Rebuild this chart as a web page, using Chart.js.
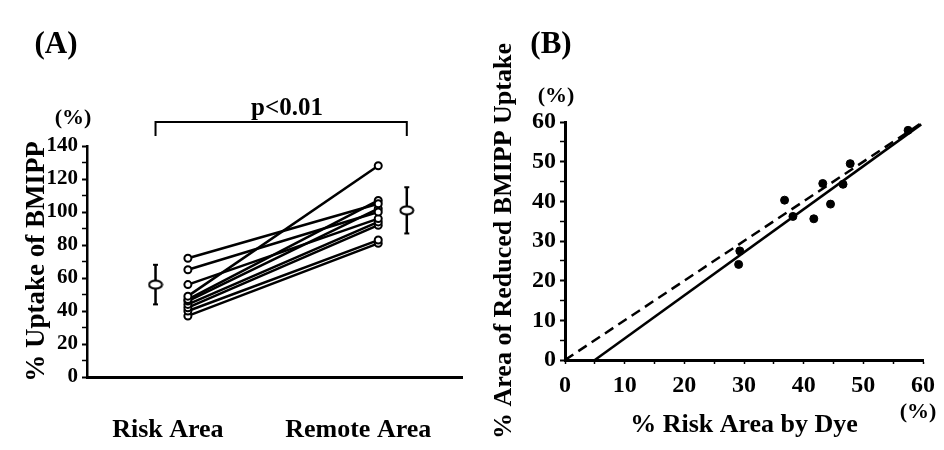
<!DOCTYPE html>
<html>
<head>
<meta charset="utf-8">
<script src="https://cdn.jsdelivr.net/npm/chart.js@4.4.0/dist/chart.umd.min.js"></script>
<style>
  body { margin: 0; background: #fff; }
  #wrap { position: relative; width: 944px; height: 450px; background: #fff; }
  .panel { position: absolute; top: 0; width: 472px; height: 450px; }
  .lbl { position: absolute; transform: translate(-50%, -50%); font-family: "Liberation Serif", serif; font-weight: bold; color: #000; white-space: nowrap; line-height: 1; }
</style>
</head>
<body>
<div id="wrap">
  <div class="panel" style="left:0"><canvas id="chartA"></canvas></div>
  <div class="panel" style="left:472px"><canvas id="chartB"></canvas></div>
  <div class="lbl" style="left:56px;top:42px;font-size:31px">(A)</div>
  <div class="lbl" style="left:551px;top:42px;font-size:31px">(B)</div>
  <div class="lbl" style="left:73px;top:117px;font-size:22px">(%)</div>
  <div class="lbl" id="pLabel" style="left:287px;top:106px;font-size:25px"></div>
  <div class="lbl" style="left:556px;top:95px;font-size:22px">(%)</div>
  <div class="lbl" style="left:918px;top:411px;font-size:22px">(%)</div>
</div>
<script>
// Panel A: % uptake of BMIPP, risk area vs remote area (one line per patient)
const areaLabels = ["Risk Area", "Remote Area"];
const riskUptake = [72, 65, 56, 49, 47, 46, 44, 42, 40, 37];
const remoteUptake = [105, 100, 96, 128, 107, 102, 94, 92, 83, 81];
const meanUptake = [56, 101];
const sdUptake = [12, 14];
const pText = "p<0.01";

// Panel B: % risk area by dye vs % area of reduced BMIPP uptake
const dyeRisk = [29.3, 29.1, 36.8, 38.2, 41.7, 43.2, 44.5, 46.6, 47.8, 57.5];
const reducedUptake = [27.5, 24.1, 40.3, 36.2, 35.6, 44.5, 39.3, 44.3, 49.5, 57.9];
const fitX = [5, 59.7];
const fitY = [0, 59.4];
const identityX = [0, 59.5];
const identityY = [0, 59.5];

const FONT = "Liberation Serif";
Chart.defaults.font.family = FONT;
Chart.defaults.color = "#000";

document.getElementById("pLabel").textContent = pText;

// x places of the two groups in panel A
const groupX = [0, 1];
const meanX = [-0.17, 1.15];
const bracketY = [146, 154.5];

function ellipseMarker() {
  const c = document.createElement("canvas");
  c.width = 16; c.height = 11;
  const g = c.getContext("2d");
  g.beginPath();
  g.ellipse(8, 5.5, 6.5, 4, 0, 0, Math.PI * 2);
  g.fillStyle = "#fff";
  g.fill();
  g.lineWidth = 2;
  g.strokeStyle = "#000";
  g.stroke();
  return c;
}

const datasetsA = [];
// mean markers first so they sit on top
datasetsA.push({
  type: "scatter",
  data: meanUptake.map((m, i) => ({ x: meanX[i], y: m })),
  pointStyle: ellipseMarker(),
  pointRadius: 6
});
meanUptake.forEach((m, i) => {
  datasetsA.push({
    type: "line",
    data: [{ x: meanX[i], y: m - sdUptake[i] }, { x: meanX[i], y: m + sdUptake[i] }],
    borderColor: "#000",
    borderWidth: 2.5,
    pointStyle: "line",
    pointRadius: 2.5,
    pointBorderWidth: 2,
    pointBorderColor: "#000"
  });
});
riskUptake.forEach((r, i) => {
  datasetsA.push({
    type: "line",
    data: [{ x: groupX[0], y: r }, { x: groupX[1], y: remoteUptake[i] }],
    borderColor: "#000",
    borderWidth: 2.5,
    pointRadius: 3.5,
    pointBackgroundColor: "#fff",
    pointBorderColor: "#000",
    pointBorderWidth: 2
  });
});
// significance bracket
datasetsA.push({
  type: "line",
  data: [
    { x: meanX[0], y: bracketY[0] }, { x: meanX[0], y: bracketY[1] },
    { x: meanX[1], y: bracketY[1] }, { x: meanX[1], y: bracketY[0] }
  ],
  borderColor: "#000",
  borderWidth: 2,
  pointRadius: 0,
  clip: false
});

new Chart(document.getElementById("chartA"), {
  type: "scatter",
  data: { datasets: datasetsA },
  options: {
    responsive: true,
    maintainAspectRatio: false,
    animation: false,
    layout: { padding: { left: 0, top: 146, right: 10, bottom: 0 } },
    plugins: { legend: { display: false }, tooltip: { enabled: false } },
    scales: {
      x: {
        type: "linear",
        min: -0.53,
        max: 1.44,
        afterBuildTicks: (scale) => { scale.ticks = groupX.map(v => ({ value: v })); },
        afterFit: (scale) => {
          scale.height = 73;
          scale.paddingLeft = 0;
          scale.paddingRight = 0;
        },
        grid: { display: false },
        border: { display: true, width: 3, color: "#000" },
        ticks: {
          callback: (v, i) => areaLabels[i],
          labelOffset: -20,
          padding: 30,
          maxRotation: 0,
          font: { size: 26, weight: "bold" }
        }
      },
      y: {
        min: 0,
        max: 140,
        afterFit: (scale) => {
          scale.width = 87;
          scale.paddingTop = 0;
          scale.paddingBottom = 0;
        },
        grid: {
          drawOnChartArea: false,
          color: "#000",
          tickLength: 5,
          tickWidth: (ctx) => (ctx.tick && ctx.tick.value % 20 === 0 ? 2 : 1.5)
        },
        border: { display: true, width: 2.5, color: "#000" },
        ticks: {
          stepSize: 10,
          autoSkip: false,
          padding: 4,
          callback: (v) => (v % 20 === 0 ? v : ""),
          font: { size: 21, weight: "bold" }
        },
        title: {
          display: true,
          text: "% Uptake of BMIPP",
          font: { size: 27, weight: "bold" },
          padding: { top: 21, bottom: 0 }
        }
      }
    }
  }
});

new Chart(document.getElementById("chartB"), {
  type: "scatter",
  data: {
    datasets: [
      {
        type: "scatter",
        data: dyeRisk.map((x, i) => ({ x: x, y: reducedUptake[i] })),
        pointRadius: 4,
        pointBackgroundColor: "#000",
        pointBorderColor: "#000",
        pointBorderWidth: 1
      },
      {
        type: "line",
        data: fitX.map((x, i) => ({ x: x, y: fitY[i] })),
        borderColor: "#000",
        borderWidth: 2.5,
        pointRadius: 0
      },
      {
        type: "line",
        data: identityX.map((x, i) => ({ x: x, y: identityY[i] })),
        borderColor: "#000",
        borderWidth: 2.5,
        borderDash: [10, 6],
        pointRadius: 0
      }
    ]
  },
  options: {
    responsive: true,
    maintainAspectRatio: false,
    animation: false,
    layout: { padding: { left: 0, top: 122, right: 21, bottom: 0 } },
    plugins: { legend: { display: false }, tooltip: { enabled: false } },
    scales: {
      x: {
        type: "linear",
        min: 0,
        max: 60,
        afterFit: (scale) => {
          scale.height = 90;
          scale.paddingLeft = 0;
          scale.paddingRight = 0;
        },
        grid: { drawOnChartArea: false, color: "#000", tickLength: 4, tickWidth: 1.5 },
        border: { display: true, width: 3, color: "#000" },
        ticks: {
          stepSize: 5,
          autoSkip: false,
          maxRotation: 0,
          padding: 7,
          callback: (v) => (v % 10 === 0 ? v : ""),
          font: { size: 24, weight: "bold" }
        },
        title: {
          display: true,
          text: "% Risk Area by Dye",
          font: { size: 26, weight: "bold" },
          padding: { top: 0, bottom: 9 }
        }
      },
      y: {
        min: 0,
        max: 60,
        afterFit: (scale) => {
          scale.width = 93;
          scale.paddingTop = 0;
          scale.paddingBottom = 0;
        },
        grid: {
          drawOnChartArea: false,
          color: "#000",
          tickLength: 5,
          tickWidth: (ctx) => (ctx.tick && ctx.tick.value % 10 === 0 ? 2 : 1.5)
        },
        border: { display: true, width: 3, color: "#000" },
        ticks: {
          stepSize: 5,
          autoSkip: false,
          padding: 4,
          callback: (v) => (v % 10 === 0 ? v : ""),
          font: { size: 24, weight: "bold" }
        },
        title: {
          display: true,
          text: "% Area of Reduced BMIPP Uptake",
          font: { size: 26, weight: "bold" },
          padding: { top: 17, bottom: 0 }
        }
      }
    }
  }
});
</script>
</body>
</html>
